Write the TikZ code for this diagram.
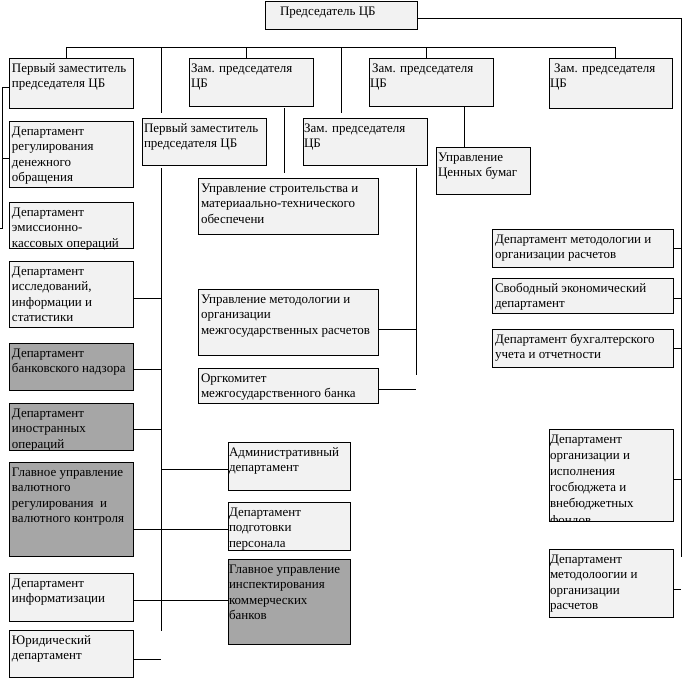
\documentclass[tikz,border=0pt]{standalone}
\usepackage{fontspec}
\setmainfont{Liberation Serif}
\usetikzlibrary{calc}
\definecolor{lightfill}{RGB}{242,242,242}
\definecolor{darkfill}{RGB}{166,166,166}
\tikzset{
  orgbox/.style={draw=black, line width=0.9pt, inner sep=0pt, outer sep=0pt},
  orgtext/.style={inner sep=0pt, outer sep=0pt, anchor=base west, font=\fontsize{13}{15.6}\selectfont},
  link/.style={draw=black, line width=0.9pt},
}
\newcommand\obox[8][2]{%
  \node[orgbox, fill=#3, minimum width={#6-#4}, minimum height={#7-#5}] (#2) at ({(#4+#6)/2},{(#5+#7)/2}) {};
  \node[orgtext] (#2-t) at ([xshift=#1pt, yshift=-14pt]#2.north west) {\begin{tabular}[t]{@{}l@{}}#8\end{tabular}};
}
\begin{document}
\begin{tikzpicture}[x=1pt, y=-1pt]
\useasboundingbox[fill=white] (0,0) rectangle (682,678);

% boxes
\obox[15]{chair}{lightfill}{265}{1}{417}{29}{Председатель ЦБ}
\obox[3]{fd1}{lightfill}{9}{58}{133}{108}{Первый заместитель\\председателя ЦБ}
\obox{zam1}{lightfill}{189}{58}{313}{106}{Зам. председателя\\ЦБ}
\obox[1]{zam2}{lightfill}{369}{58}{493}{106}{\hspace{2pt}Зам. председателя\\ЦБ}
\obox[1]{zam3}{lightfill}{549}{58}{672}{108}{\hspace{4pt}Зам. председателя\\ЦБ}
\obox{fd2}{lightfill}{142}{118}{266}{165}{Первый заместитель\\председателя ЦБ}
\obox[1]{zam4}{lightfill}{303}{118}{427}{165}{Зам. председателя\\ЦБ}
\obox[2]{ub}{lightfill}{436}{147}{530}{194}{Управление\\Ценных бумаг}

\obox[3]{dreg}{lightfill}{9}{121}{133}{187}{Департамент\\регулирования\\денежного\\обращения}
\obox[3]{emis}{lightfill}{9}{202}{133}{248}{Департамент\\эмиссионно-\\кассовых операций}
\obox[3]{res}{lightfill}{9}{261}{133}{327}{Департамент\\исследований,\\информации и\\статистики}
\obox[3]{bank}{darkfill}{9}{343}{133}{390}{Департамент\\банковского надзора}
\obox[3]{forex}{darkfill}{9}{403}{133}{450}{Департамент\\иностранных\\операций}
\obox[3]{gval}{darkfill}{9}{462}{133}{556}{Главное управление\\валютного\\регулирования\ \ и\\валютного контроля}
\obox[3]{inf}{lightfill}{9}{573}{133}{621}{Департамент\\информатизации}
\obox[3]{yur}{lightfill}{9}{630}{133}{677}{Юридический\\департамент}

\obox[3]{stroi}{lightfill}{198}{178}{378}{234}{Управление строительства и\\материаально-технического\\обеспечени}
\obox[3]{metod}{lightfill}{198}{289}{378}{355}{Управление методологии и\\организации\\межгосударственных расчетов}
\obox[3]{orgk}{lightfill}{198}{368}{378}{403}{Оргкомитет\\межгосударственного банка}

\obox[1]{admin}{lightfill}{228}{442}{350}{490}{Административный\\департамент}
\obox[1]{podg}{lightfill}{228}{502}{350}{550}{Департамент\\подготовки\\персонала}
\obox[1]{insp}{darkfill}{228}{559}{350}{644}{Главное управление\\инспектирования\\коммерческих\\банков}

\obox[3]{dmor}{lightfill}{492}{229}{673}{267}{Департамент методологии и\\организации расчетов}
\obox[3]{sved}{lightfill}{492}{278}{673}{313}{Свободный экономический\\департамент}
\obox[3]{buh}{lightfill}{492}{329}{673}{367}{Департамент бухгалтерского\\учета и отчетности}

% clipped box
\node[orgbox, draw=none, fill=lightfill, minimum width=124, minimum height=92] (gosb) at (611,475) {};
\begin{scope}
  \clip (gosb.south west) rectangle (gosb.north east);
  \node[orgtext, font=\fontsize{13}{16.2}\selectfont] (gosb-t) at ([xshift=1pt, yshift=-14pt]gosb.north west) {\begin{tabular}[t]{@{}l@{}}Департамент\\организации и\\исполнения\\госбюджета и\\внебюджетных\\фондов\end{tabular}};
\end{scope}
\draw[link] (gosb.south west) rectangle (gosb.north east);
\obox[1]{dmor2}{lightfill}{549}{549}{673}{617}{Департамент\\методолоогии и\\организации\\расчетов}

% coordinates
\coordinate (rT) at (681,18);
\coordinate (rB) at (681,557);
\coordinate (busL) at (66,47);
\coordinate (busR) at (615,47);
\coordinate (d2) at (161,47);  \coordinate (d2e) at (161,113);
\coordinate (d3) at (246,47);
\coordinate (d4) at (341,47);  \coordinate (d4e) at (341,113);
\coordinate (d5) at (426,47);
\coordinate (lv1) at (2,87);   \coordinate (lv2) at (2,228);
\coordinate (lvm) at (2,158);  \coordinate (lve) at (0,228);
\coordinate (cv1) at (161,168); \coordinate (cv2) at (161,631);
\coordinate (mv1) at (416,168); \coordinate (mv2) at (416,375);
\coordinate (z1a) at (284,108); \coordinate (z1b) at (284,173);
\coordinate (ubx) at (464,106);

% connectors
\draw[link] (chair.north east |- rT) -- (rT) -- (rB);
\draw[link] (busL) -- (busR);
\draw[link] (busL) -- (busL |- fd1.north);
\draw[link] (d2) -- (d2e);
\draw[link] (d3) -- (d3 |- zam1.north);
\draw[link] (d4) -- (d4e);
\draw[link] (d5) -- (d5 |- zam2.north);
\draw[link] (busR) -- (busR |- zam3.north);

\draw[link] (fd1.west |- lv1) -- (lv1) -- (lv2) -- (lve);
\draw[link] (lvm) -- (dreg.west |- lvm);

\draw[link] (z1a) -- (z1b);
\draw[link] (ubx) -- (ubx |- ub.north);

\draw[link] (cv1) -- (cv2);
\draw[link] (res.east |- 0,298) -- (cv1 |- 0,298);
\draw[link] (bank.east |- 0,369) -- (cv1 |- 0,369);
\draw[link] (forex.east |- 0,429) -- (cv1 |- 0,429);
\draw[link] (cv1 |- 0,469) -- (admin.west |- 0,469);
\draw[link] (gval.east |- 0,529) -- (podg.west |- 0,529);
\draw[link] (inf.east |- 0,600) -- (insp.west |- 0,600);
\draw[link] (yur.east |- 0,659) -- (cv1 |- 0,659);

\draw[link] (mv1) -- (mv2);
\draw[link] (metod.east |- 0,329) -- (mv1 |- 0,329);
\draw[link] (orgk.east |- 0,389) -- (mv1 |- 0,389);

\draw[link] (dmor.east |- 0,248) -- (rT |- 0,248);
\draw[link] (sved.east |- 0,298) -- (rT |- 0,298);
\draw[link] (buh.east |- 0,348) -- (rT |- 0,348);
\draw[link] (gosb.east |- 0,479) -- (rT |- 0,479);
\draw[link] (dmor2.east |- 0,589) -- (rT |- 0,589);
\end{tikzpicture}
\end{document}
